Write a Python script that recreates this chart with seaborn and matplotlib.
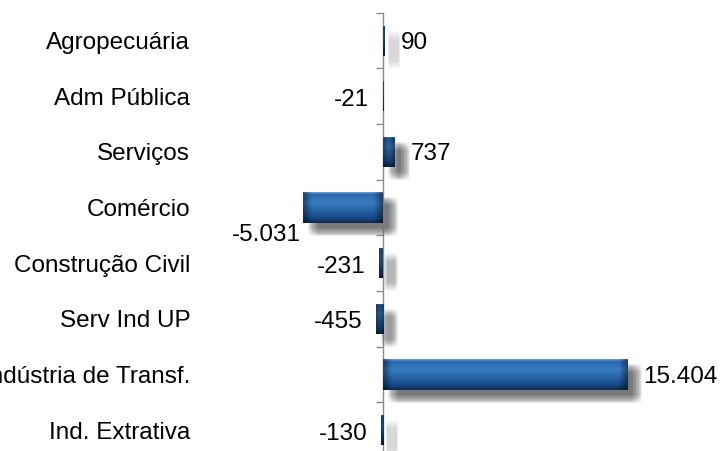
import matplotlib
matplotlib.use("Agg")
import matplotlib.pyplot as plt
import matplotlib.patheffects as pe
from matplotlib.colors import LinearSegmentedColormap
import numpy as np
import pandas as pd
import seaborn as sns

categories = ["Agropecuária", "Adm Pública", "Serviços", "Comércio",
              "Construção Civil", "Serv Ind UP", "Indústria de Transf.", "Ind. Extrativa"]
values = [90, -21, 737, -5031, -231, -455, 15404, -130]

sns.set_theme(style="white")
plt.rcParams["font.family"] = ["Liberation Sans", "DejaVu Sans"]

W, H, DPI = 726, 451, 100
fig = plt.figure(figsize=(W / DPI, H / DPI), dpi=DPI)
# plot area: left 193px .. 700px, top 12.7px, bottom runs past the image edge
ax = fig.add_axes([193 / W, 1 - 458 / H, 507 / W, 445.3 / H])

df = pd.DataFrame({"cat": categories, "val": values})
sns.barplot(data=df, x="val", y="cat", orient="h", color="#1f5a9e",
            width=0.54, ax=ax, saturation=1, edgecolor="none")

XLIM = (-12000, 20000)
YLIM = (len(categories) - 0.5, -0.5)
ax.set_xlim(XLIM)
ax.set_ylim(YLIM)

for s in ax.spines.values():
    s.set_visible(False)
ax.set_xticks([])
ax.set_xlabel("")
ax.set_ylabel("")
ax.tick_params(axis="y", length=0, pad=2, labelsize=17.5, labelcolor="black")

# vertical axis through zero with ticks at category boundaries
sec = ax.secondary_yaxis(0, transform=ax.transData)
sec.set_yticks(np.arange(-0.5, len(categories), 1))
sec.set_yticklabels([])
sec.tick_params(length=5, width=1, color="#8a8a8a", direction="out")
sec.spines["left"].set_color("#8a8a8a")
sec.spines["left"].set_linewidth(1)

# blue bevel gradient
stops = [(0.0, "#6f9fd6"), (0.07, "#2b69ae"), (0.35, "#3a7dc2"),
         (0.55, "#2a68ab"), (0.85, "#164785"), (1.0, "#0b2b55")]
cmap = LinearSegmentedColormap.from_list("bev", stops)
prof = np.array([cmap(t)[:3] for t in np.linspace(0, 1, 60)])

# soft drop shadow: many faint copies spread around the offset (box blur)
px = 72 / DPI
shadow = [pe.SimplePatchShadow(offset=((10 + dx) * px, -(9 + dy) * px),
                               shadow_rgbFace="#7a7a7a", alpha=0.016)
          for dx in range(-5, 6, 1) for dy in range(-4, 5, 1)]

for patch in ax.patches:
    bb = patch.get_bbox()
    x0, x1 = sorted([bb.x0, bb.x1])
    ya, yb = sorted([bb.y0, bb.y1])
    if x1 - x0 <= 0:
        continue
    patch.set_path_effects(shadow + [pe.Normal()])
    px0 = ax.transData.transform((x0, 0))[0]
    px1 = ax.transData.transform((x1, 0))[0]
    wpx = max(px1 - px0, 1)
    n = max(int(wpx * 2), 4)
    d = np.minimum(np.arange(n), np.arange(n)[::-1]) / 2.0  # px from end
    bev = 9.0
    fac = 1 - 0.45 * np.clip((bev - d) / bev, 0, 1)
    img = prof[:, None, :] * fac[None, :, None]
    im = ax.imshow(img, extent=(x0, x1, yb, ya), origin="upper",
                   aspect="auto", zorder=3, interpolation="bilinear")
    im.set_clip_path(patch)

ax.set_xlim(XLIM)
ax.set_ylim(YLIM)


def fmt(v):
    return f"{v:,}".replace(",", ".")


for i, v in enumerate(values):
    if v >= 0:
        ax.annotate(fmt(v), xy=(v, i), xytext=(11.5, -1.5), textcoords="offset points",
                    ha="left", va="center", fontsize=17.5, color="black", zorder=5)
    elif v < -1000:
        ax.annotate(fmt(v), xy=(v, i), xytext=(-2, -20), textcoords="offset points",
                    ha="right", va="center", fontsize=17.5, color="black", zorder=5)
    else:
        ax.annotate(fmt(v), xy=(v, i), xytext=(-10, -2.5), textcoords="offset points",
                    ha="right", va="center", fontsize=17.5, color="black", zorder=5)

fig.savefig("out.png", dpi=DPI)
